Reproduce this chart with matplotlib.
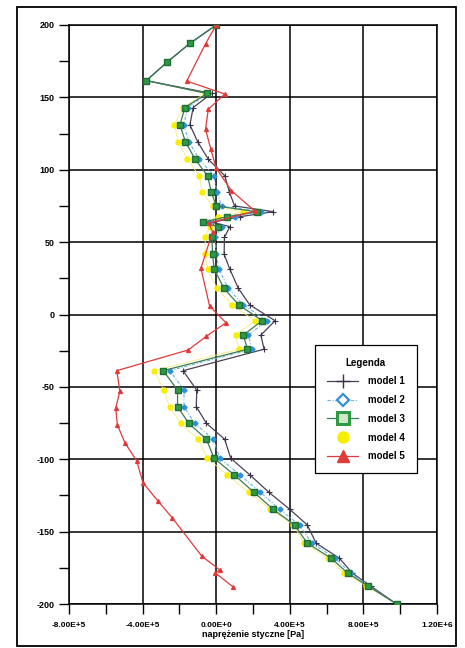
import matplotlib
matplotlib.use("Agg")
import matplotlib.pyplot as plt
from matplotlib.patches import Rectangle
from matplotlib.lines import Line2D
from matplotlib.ticker import MultipleLocator, FixedLocator

plt.rcParams['font.family'] = ['Liberation Sans', 'DejaVu Sans']

# depth levels shared by models 1-4
y_levels = [200, 187.3, 174.4, 161.6, 152.7, 143, 131, 119.2, 107.2, 95.8, 84.4, 75, 71,
            67.6, 63.7, 60.7, 53.3, 41.6, 31.4, 18.1, 6.6, -4.3, -14.2, -24, -38.8, -52.2,
            -63.7, -75.2, -86.2, -99.3, -110.7, -122.8, -134.6, -145.4, -158, -168.4,
            -178.7, -187.6, -200]

model1_x = [0, -1.43e5, -2.66e5, -3.8e5, -0.25e5, -1.25e5, -1.43e5, -1.0e5, -0.43e5, 0.47e5,
            0.72e5, 1.0e5, 3.1e5, 1.3e5, -0.2e5, 0.74e5, 0.45e5, 0.43e5, 0.74e5, 1.2e5, 1.83e5,
            3.2e5, 2.43e5, 2.6e5, -1.8e5, -1.06e5, -1.08e5, -0.53e5, 0.46e5, 0.79e5, 1.82e5,
            2.86e5, 4.0e5, 4.95e5, 5.43e5, 6.7e5, 7.4e5, 8.4e5, 9.8e5]
model2_x = [0, -1.43e5, -2.66e5, -3.8e5, -0.45e5, -1.55e5, -1.76e5, -1.48e5, -0.91e5, -0.13e5,
            0.04e5, 0.29e5, 2.43e5, 1.0e5, -0.4e5, 0.3e5, -0.05e5, 0.0, 0.16e5, 0.65e5, 1.47e5,
            2.77e5, 1.74e5, 1.95e5, -2.52e5, -1.75e5, -1.75e5, -1.17e5, -0.15e5, 0.19e5, 1.28e5,
            2.4e5, 3.45e5, 4.53e5, 5.2e5, 6.47e5, 7.3e5, 8.3e5, 9.8e5]
model3_x = [0, -1.43e5, -2.66e5, -3.8e5, -0.5e5, -1.7e5, -1.97e5, -1.67e5, -1.14e5, -0.47e5,
            -0.26e5, 0.0, 2.2e5, 0.6e5, -0.73e5, 0.1e5, -0.23e5, -0.2e5, -0.11e5, 0.42e5, 1.23e5,
            2.5e5, 1.47e5, 1.7e5, -2.88e5, -2.1e5, -2.1e5, -1.49e5, -0.53e5, -0.12e5, 0.97e5,
            2.05e5, 3.1e5, 4.26e5, 4.95e5, 6.25e5, 7.15e5, 8.25e5, 9.8e5]
model4_x = [0, -1.43e5, -2.66e5, -3.8e5, -0.6e5, -1.8e5, -2.28e5, -2.05e5, -1.56e5, -0.92e5,
            -0.76e5, -0.2e5, 1.47e5, 0.1e5, -0.55e5, -0.35e5, -0.6e5, -0.6e5, -0.47e5, 0.05e5,
            0.87e5, 2.1e5, 1.05e5, 1.23e5, -3.37e5, -2.85e5, -2.53e5, -1.93e5, -0.97e5, -0.48e5,
            0.6e5, 1.76e5, 2.95e5, 4.2e5, 4.77e5, 6.1e5, 6.97e5, 8.15e5, 9.8e5]

model5_y = [200, 187, 161.3, 152.3, 141.8, 128, 114, 101, 85.5, 71.5, 63.1, 57, 31.9, 5.9, -5.7,
            -15, -24.5, -38.8, -53, -64.8, -76.3, -88.6, -101.2, -116.2, -128.8, -140.3, -167,
            -176.5, -178.5, -188]
model5_x = [0, -0.58e5, -1.6e5, 0.47e5, -0.43e5, -0.58e5, -0.29e5, 0.0, 0.83e5, 2.1e5, -0.4e5,
            -0.2e5, -0.83e5, -0.36e5, 0.53e5, -0.53e5, -1.52e5, -5.4e5, -5.24e5, -5.46e5, -5.37e5,
            -4.96e5, -4.32e5, -3.98e5, -3.17e5, -2.4e5, -0.78e5, 0.2e5, -0.05e5, 0.9e5]

labels = ["model 1", "model 2", "model 3", "model 4", "model 5"]
x_ticks = [-8e5, -4e5, 0, 4e5, 8e5, 1.2e6]
x_tick_labels = ["-8.00E+5", "-4.00E+5", "0.00E+0", "4.00E+5", "8.00E+5", "1.20E+6"]
y_ticks = [-200, -150, -100, -50, 0, 50, 100, 150, 200]

c1, c2l, c2m, c3l, c3m, c4, c5 = '#4a4058', '#6fb6e6', '#2f8fe0', '#3d7a55', '#2f9a45', '#f7ef00', '#e03a3a'

fig = plt.figure(figsize=(4.65, 6.48), dpi=100)
ax = fig.add_axes([69/465, 1-604/648, (437-69)/465, (604-25)/648])

# outer frame
fig.patches.append(Rectangle((17/465, 2/648), (456-17)/465, (641-2)/648,
                             transform=fig.transFigure, fill=False, ec='black', lw=1.3))

ax.plot(model4_x, y_levels, color='#f2ee7a', lw=0.6, marker='o', ms=3.6,
        mfc=c4, mec=c4, zorder=2)
ax.plot(model1_x, y_levels, color=c1, lw=0.9, marker='+', ms=5, mew=0.8,
        mec='#3a3048', zorder=3)
ax.plot(model2_x, y_levels, color=c2l, lw=0.8, ls=(0, (3, 1.5, 1, 1.5)), marker='D',
        ms=2.6, mfc=c2m, mec=c2m, zorder=4)
ax.plot(model3_x, y_levels, color=c3l, lw=0.9, marker='s', ms=3.8,
        mfc=c3m, mec='#1f6e33', zorder=5)
ax.plot(model5_x, model5_y, color=c5, lw=0.9, marker='^', ms=2.8,
        mfc=c5, mec=c5, zorder=6)

ax.set_xlim(-8e5, 1.2e6)
ax.set_ylim(-200, 200)
ax.xaxis.set_major_locator(FixedLocator(x_ticks))
ax.xaxis.set_minor_locator(MultipleLocator(2e5))
ax.yaxis.set_major_locator(FixedLocator(y_ticks))
ax.yaxis.set_minor_locator(MultipleLocator(25))
ax.set_xticklabels(x_tick_labels, fontsize=6, fontweight='bold')
ax.set_yticklabels([str(v) for v in y_ticks], fontsize=6.5, fontweight='bold')
ax.tick_params(axis='both', which='both', direction='out', length=7, width=1, color='black')
ax.tick_params(axis='x', pad=6)
ax.grid(True, which='major', color='black', lw=1.1)
for s in ax.spines.values():
    s.set_color('black')
    s.set_linewidth(1.1)
ax.set_xlabel("naprężenie styczne [Pa]", fontsize=6.5, fontweight='bold', labelpad=1)

handles = [
    Line2D([], [], color=c1, lw=0.9, marker='+', ms=10, mew=1.0, mec='#3a3048'),
    Line2D([], [], color=c2l, lw=0.8, ls=(0, (3, 1.5, 1, 1.5)), marker='D', ms=6,
           mfc='white', mec=c2m, mew=1.6),
    Line2D([], [], color=c3l, lw=0.9, marker='s', ms=8, mfc='#cfe8c8', mec=c3m, mew=2.2),
    Line2D([], [], ls='none', marker='o', ms=8, mfc=c4, mec=c4),
    Line2D([], [], color=c5, lw=0.9, marker='^', ms=8, mfc=c5, mec=c5),
]
leg = ax.legend(handles, labels,
                title="Legenda", loc='upper left', bbox_to_anchor=(0.655, 0.455),
                fontsize=7, title_fontsize=7, frameon=True, fancybox=False,
                edgecolor='black', framealpha=1, handlelength=3.2,
                labelspacing=0.9, borderpad=1.25, handletextpad=1.0)
leg.get_frame().set_linewidth(0.9)
leg.get_title().set_fontweight('bold')
for t in leg.get_texts():
    t.set_fontweight('bold')
leg.set_zorder(10)

fig.savefig("out.png", dpi=100)
